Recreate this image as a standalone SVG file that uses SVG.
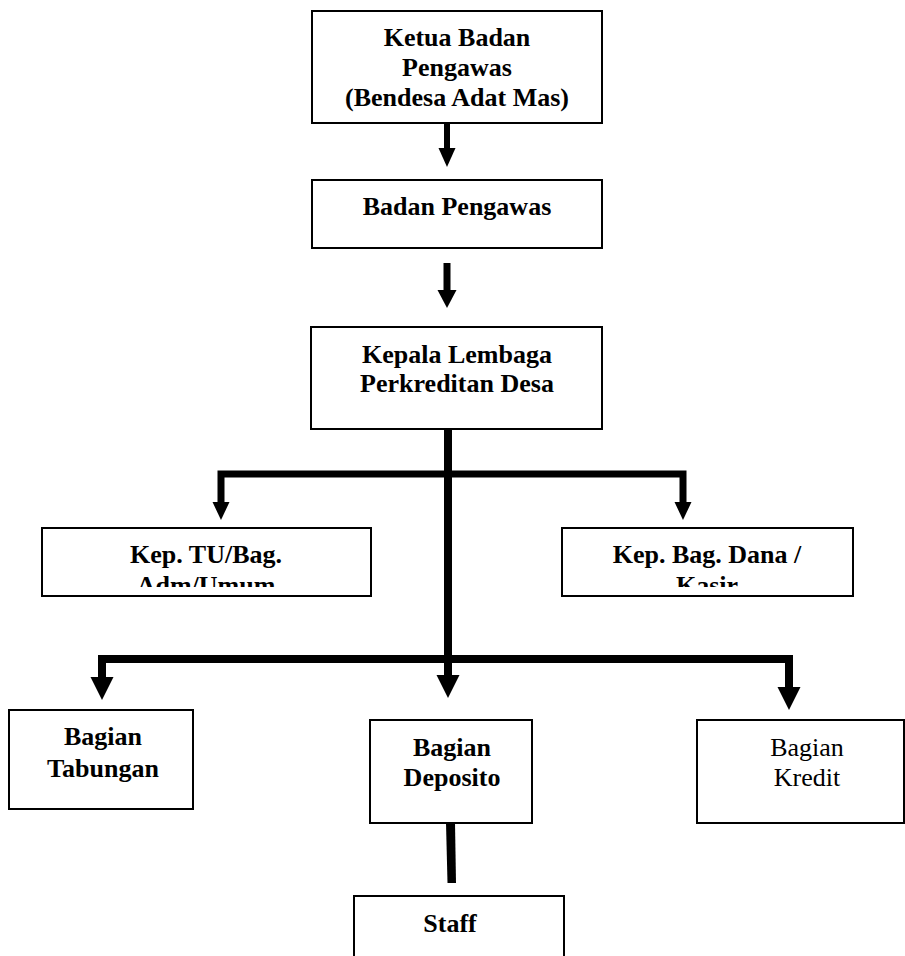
<svg xmlns="http://www.w3.org/2000/svg" width="905" height="956" viewBox="0 0 905 956">
<style>
.box{fill:#fff;stroke:#000;stroke-width:2}
.t{font-family:"Liberation Serif","Times New Roman",serif;font-size:26px;font-weight:bold;text-anchor:middle;fill:#000}
.r{font-weight:normal}
.ln{fill:none;stroke:#000;stroke-linejoin:miter;stroke-linecap:butt}
.hd{fill:#000}
</style>
<defs>
<clipPath id="clipTU"><rect x="42" y="528" width="329" height="59"/></clipPath>
<clipPath id="clipDana"><rect x="562" y="528" width="291" height="59"/></clipPath>
</defs>
<rect width="905" height="956" fill="#fff"/>
<g id="connectors">
<line class="ln" x1="447" y1="123" x2="447" y2="149" stroke-width="6"/>
<polygon class="hd" points="438.5,148 455.5,148 447,167"/>
<line class="ln" x1="447" y1="263" x2="447" y2="291" stroke-width="7"/>
<polygon class="hd" points="437.5,290 456.5,290 447,308"/>
<line class="ln" x1="448" y1="429" x2="448" y2="676" stroke-width="8"/>
<polyline class="ln" points="221,503 221,474 683,474 683,503" stroke-width="7"/>
<polygon class="hd" points="212.5,502 229.5,502 221,520"/>
<polygon class="hd" points="674.5,502 691.5,502 683,520"/>
<polyline class="ln" points="102,678 102,659 789,659 789,688" stroke-width="8"/>
<polygon class="hd" points="436.5,675 459.5,675 448,698"/>
<polygon class="hd" points="90.5,677 113.5,677 102,700"/>
<polygon class="hd" points="777.5,687 800.5,687 789,710"/>
<polygon class="hd" points="446,823 455,823 456,883 447.5,883"/>
</g>
<g id="ketua">
<rect class="box" x="312" y="11" width="290" height="112"/>
<text class="t" x="457" y="46">Ketua Badan</text>
<text class="t" x="457" y="76">Pengawas</text>
<text class="t" x="457" y="106">(Bendesa Adat Mas)</text>
</g>
<g id="badan">
<rect class="box" x="312" y="180" width="290" height="68"/>
<text class="t" x="457" y="215">Badan Pengawas</text>
</g>
<g id="kepala">
<rect class="box" x="311" y="327" width="291" height="102"/>
<text class="t" x="457" y="363">Kepala Lembaga</text>
<text class="t" x="457" y="392">Perkreditan Desa</text>
</g>
<g id="tu">
<rect class="box" x="42" y="528" width="329" height="68"/>
<g clip-path="url(#clipTU)">
<text class="t" x="206" y="563">Kep. TU/Bag.</text>
<text class="t" x="206" y="594">Adm/Umum</text>
</g>
</g>
<g id="dana">
<rect class="box" x="562" y="528" width="291" height="68"/>
<g clip-path="url(#clipDana)">
<text class="t" x="707" y="563">Kep. Bag. Dana /</text>
<text class="t" x="707" y="594">Kasir</text>
</g>
</g>
<g id="tabungan">
<rect class="box" x="9" y="710" width="184" height="99"/>
<text class="t" x="103" y="745">Bagian</text>
<text class="t" x="103" y="777">Tabungan</text>
</g>
<g id="deposito">
<rect class="box" x="370" y="720" width="162" height="103"/>
<text class="t" x="452" y="756">Bagian</text>
<text class="t" x="452" y="786">Deposito</text>
</g>
<g id="kredit">
<rect class="box" x="697" y="720" width="207" height="103"/>
<text class="t r" x="807" y="756">Bagian</text>
<text class="t r" x="807" y="786">Kredit</text>
</g>
<g id="staff">
<rect class="box" x="354" y="896" width="210" height="80"/>
<text class="t" x="450" y="932">Staff</text>
</g>
</svg>
